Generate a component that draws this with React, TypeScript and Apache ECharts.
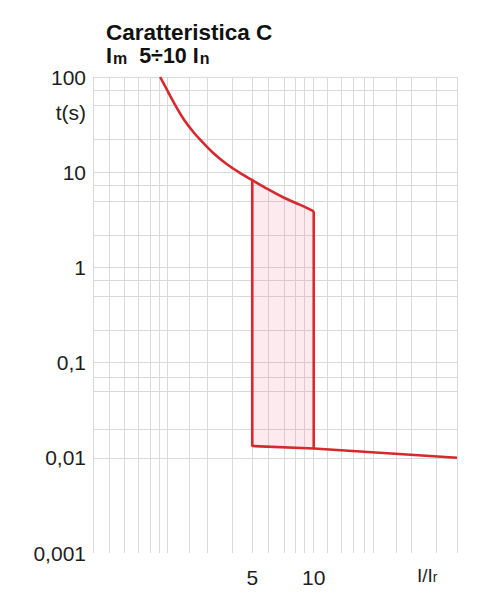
import React, { useEffect, useRef } from "react";
import * as echarts from "echarts";

// ---- data ----
const thermalI = [1.77, 1.91, 2.06, 2.3, 2.58, 2.84, 3.23, 3.76, 4.37, 5, 5.9, 7.11, 8.59, 10];
const thermalT = [100, 73.6, 54.4, 36.5, 26.3, 20.9, 15.8, 12.1, 9.76, 8.24, 6.71, 5.42, 4.53, 3.88];
const magneticI = [5, 10, 50.3];
const magneticT = [0.0133, 0.0125, 0.01];
const bandLowI = 5;
const bandHighI = 10;

const xMin = 0.83;
const xMax = 50.3;
const yMin = 0.001;
const yMax = 100;

const xGridValues = [
  0.83, 1, 1.18, 1.38, 1.58, 1.75, 1.92, 2.45, 3, 4, 5, 6, 7.2, 8.1, 9, 9.9,
  11.7, 13.6, 15.7, 17.7, 19.6, 25.4, 30, 40, 50.3,
];
const yDecades = [0.001, 0.01, 0.1, 1, 10];
const yMultipliers = [1, 2.2, 5, 7.3];
const yTickLabels = ["0,001", "0,01", "0,1", "1", "10", "100"];
const xTickValues = [5, 10];
const xTickLabels = ["5", "10"];

const titleLine1 = "Caratteristica C";
const unitY = "t(s)";

const RED = "#d7282d";
const GRID = "#d9d9d9";
const FONT = "'Liberation Sans', Arial, Helvetica, sans-serif";

export default function App() {
  const ref = useRef<HTMLDivElement>(null);

  useEffect(() => {
    if (!ref.current) return;
    const chart = echarts.init(ref.current, undefined, { renderer: "svg" });

    const yGridValues: number[] = [];
    yDecades.forEach((d) => yMultipliers.forEach((m) => yGridValues.push(d * m)));
    yGridValues.push(yMax);

    const thermal = thermalI.map((v, i) => [v, thermalT[i]]);
    const magnetic = magneticI.map((v, i) => [v, magneticT[i]]);
    const bandTop = thermal.filter((p) => p[0] >= bandLowI && p[0] <= bandHighI);
    const tAt5 = thermalT[thermalI.indexOf(bandLowI)];
    const tAt10 = thermalT[thermalI.indexOf(bandHighI)];
    const fillPoly = [
      ...bandTop,
      [bandHighI, magneticT[1]],
      [bandLowI, magneticT[0]],
    ];

    chart.setOption({
      animation: false,
      grid: { left: 93, top: 77, width: 364, height: 476 },
      xAxis: {
        type: "log",
        logBase: 10,
        min: xMin,
        max: xMax,
        axisLine: { show: false },
        axisTick: { show: false },
        axisLabel: { show: false },
        splitLine: { show: false },
      },
      yAxis: {
        type: "log",
        logBase: 10,
        min: yMin,
        max: yMax,
        axisLine: { show: false },
        axisTick: { show: false },
        splitLine: { show: false },
        axisLabel: {
          fontSize: 21,
          color: "#1e1e1e",
          fontFamily: FONT,
          margin: 7,
          formatter: (v: number) => {
            const k = Math.round(Math.log10(v)) + 3;
            return yTickLabels[k] ?? "";
          },
        },
      },
      series: [
        {
          type: "line",
          data: [],
          silent: true,
          z: 1,
          markLine: {
            silent: true,
            z: 1,
            symbol: ["none", "none"],
            label: { show: false },
            lineStyle: { color: GRID, width: 1, type: "solid" },
            emphasis: { disabled: true },
            data: [
              ...xGridValues.map((v) => ({ xAxis: v })),
              ...yGridValues.map((v) => ({ yAxis: v })),
            ],
          },
        },
        {
          type: "custom",
          z: 2,
          silent: true,
          data: [[bandLowI, 1]],
          renderItem: (_params: any, api: any) => {
            const pts = fillPoly.map((p) => api.coord(p));
            return {
              type: "polygon",
              shape: { points: pts },
              style: { fill: "rgba(232, 95, 120, 0.13)" },
            };
          },
        },
        {
          type: "line",
          z: 3,
          data: thermal,
          smooth: 0.3,
          showSymbol: false,
          symbol: "none",
          lineStyle: { color: RED, width: 2.6 },
        },
        {
          type: "line",
          z: 3,
          data: [[bandLowI, tAt5], [bandLowI, magneticT[0]], ...magnetic.slice(1)],
          showSymbol: false,
          symbol: "none",
          lineStyle: { color: RED, width: 2.6 },
        },
        {
          type: "line",
          z: 3,
          data: [[bandHighI, tAt10], [bandHighI, magneticT[1]]],
          showSymbol: false,
          symbol: "none",
          lineStyle: { color: RED, width: 2.6 },
        },
      ],
    });

    const xLabels = xTickValues.map((v, i) => {
      const px = chart.convertToPixel({ xAxisIndex: 0 }, v) as number;
      return {
        type: "text",
        x: px,
        y: 577,
        style: {
          text: xTickLabels[i],
          fontSize: 21,
          fontFamily: FONT,
          fill: "#1e1e1e",
          align: "center",
          verticalAlign: "middle",
        },
      };
    });

    chart.setOption({
      graphic: [
        {
          type: "text",
          x: 106,
          y: 32,
          style: {
            text: titleLine1,
            fontSize: 22.5,
            fontWeight: "bold",
            fontFamily: FONT,
            fill: "#111",
            align: "left",
            verticalAlign: "middle",
          },
        },
        {
          type: "text",
          x: 106,
          y: 55,
          style: {
            text: "{b|I}{s|m}{b|  5÷10 I}{s|n}",
            fontFamily: FONT,
            align: "left",
            verticalAlign: "middle",
            rich: {
              b: { fontSize: 21.5, fontWeight: "bold", fill: "#111", fontFamily: FONT, lineHeight: 24, verticalAlign: "bottom" },
              s: { fontSize: 16, fontWeight: "bold", fill: "#111", fontFamily: FONT, lineHeight: 24, verticalAlign: "bottom", padding: [0, 0, 1, 1] },
            },
          },
        },
        {
          type: "text",
          x: 86,
          y: 112,
          style: {
            text: unitY,
            fontSize: 21,
            fontFamily: FONT,
            fill: "#1e1e1e",
            align: "right",
            verticalAlign: "middle",
          },
        },
        ...xLabels,
        {
          type: "text",
          x: 417,
          y: 575,
          style: {
            text: "{a|I/I}{r|r}",
            fontFamily: FONT,
            align: "left",
            verticalAlign: "middle",
            rich: {
              a: { fontSize: 19, fill: "#1e1e1e", fontFamily: FONT, lineHeight: 20, verticalAlign: "bottom" },
              r: { fontSize: 14, fill: "#1e1e1e", fontFamily: FONT, lineHeight: 20, verticalAlign: "bottom", padding: [0, 0, 1, 0] },
            },
          },
        },
      ],
    });

    return () => chart.dispose();
  }, []);

  return (
    <div
      ref={ref}
      style={{ position: "fixed", left: 0, top: 0, width: 483, height: 600, background: "#fff" }}
    />
  );
}
